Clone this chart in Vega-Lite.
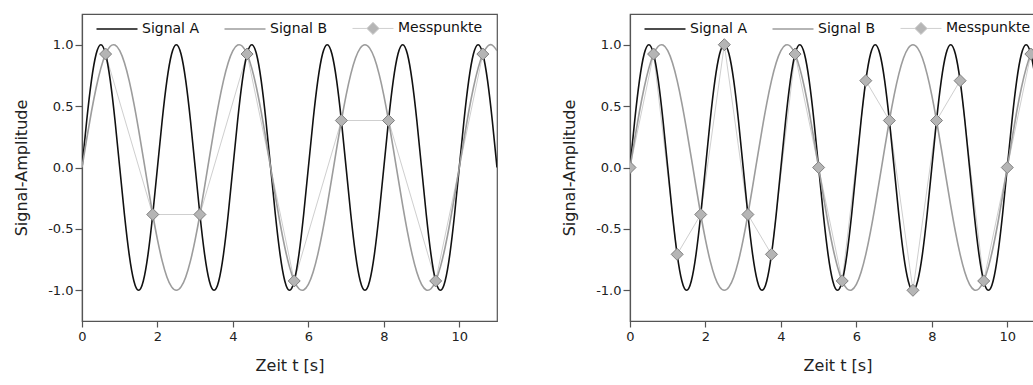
{
  "$schema": "https://vega.github.io/schema/vega-lite/v6.json",
  "background": "white",
  "padding": {"left": 13, "top": 13, "right": 0, "bottom": 0},
  "config": {
    "font": "DejaVu Sans",
    "view": {"stroke": "#555", "strokeWidth": 1.2},
    "axis": {
      "grid": false,
      "domainColor": "#555",
      "domainWidth": 1.2,
      "tickColor": "#555",
      "tickWidth": 1.2,
      "labelColor": "#222",
      "labelFontSize": 13,
      "labelFont": "DejaVu Sans",
      "titleFont": "DejaVu Sans",
      "titleFontSize": 16,
      "titleFontWeight": "normal",
      "titleColor": "#222"
    },
    "legend": {
      "orient": "top-left",
      "direction": "horizontal",
      "offset": 0,
      "padding": 7,
      "symbolType": "stroke",
      "symbolSize": 1681,
      "symbolStrokeWidth": 1.6,
      "symbolOffset": 21,
      "labelFont": "DejaVu Sans",
      "labelFontSize": 14,
      "labelColor": "#111",
      "labelOffset": 18,
      "columnPadding": 17
    }
  },
  "datasets": {
    "kurven": [
      {"t": 0, "Signal A": 0, "Signal B": 0},
      {"t": 0.125, "Signal A": 0.3827, "Signal B": 0.2334},
      {"t": 0.25, "Signal A": 0.7071, "Signal B": 0.454},
      {"t": 0.375, "Signal A": 0.9239, "Signal B": 0.6494},
      {"t": 0.5, "Signal A": 1, "Signal B": 0.809},
      {"t": 0.625, "Signal A": 0.9239, "Signal B": 0.9239},
      {"t": 0.75, "Signal A": 0.7071, "Signal B": 0.9877},
      {"t": 0.875, "Signal A": 0.3827, "Signal B": 0.9969},
      {"t": 1, "Signal A": 0, "Signal B": 0.9511},
      {"t": 1.125, "Signal A": -0.3827, "Signal B": 0.8526},
      {"t": 1.25, "Signal A": -0.7071, "Signal B": 0.7071},
      {"t": 1.375, "Signal A": -0.9239, "Signal B": 0.5225},
      {"t": 1.5, "Signal A": -1, "Signal B": 0.309},
      {"t": 1.625, "Signal A": -0.9239, "Signal B": 0.0785},
      {"t": 1.75, "Signal A": -0.7071, "Signal B": -0.1564},
      {"t": 1.875, "Signal A": -0.3827, "Signal B": -0.3827},
      {"t": 2, "Signal A": 0, "Signal B": -0.5878},
      {"t": 2.125, "Signal A": 0.3827, "Signal B": -0.7604},
      {"t": 2.25, "Signal A": 0.7071, "Signal B": -0.891},
      {"t": 2.375, "Signal A": 0.9239, "Signal B": -0.9724},
      {"t": 2.5, "Signal A": 1, "Signal B": -1},
      {"t": 2.625, "Signal A": 0.9239, "Signal B": -0.9724},
      {"t": 2.75, "Signal A": 0.7071, "Signal B": -0.891},
      {"t": 2.875, "Signal A": 0.3827, "Signal B": -0.7604},
      {"t": 3, "Signal A": 0, "Signal B": -0.5878},
      {"t": 3.125, "Signal A": -0.3827, "Signal B": -0.3827},
      {"t": 3.25, "Signal A": -0.7071, "Signal B": -0.1564},
      {"t": 3.375, "Signal A": -0.9239, "Signal B": 0.0785},
      {"t": 3.5, "Signal A": -1, "Signal B": 0.309},
      {"t": 3.625, "Signal A": -0.9239, "Signal B": 0.5225},
      {"t": 3.75, "Signal A": -0.7071, "Signal B": 0.7071},
      {"t": 3.875, "Signal A": -0.3827, "Signal B": 0.8526},
      {"t": 4, "Signal A": 0, "Signal B": 0.9511},
      {"t": 4.125, "Signal A": 0.3827, "Signal B": 0.9969},
      {"t": 4.25, "Signal A": 0.7071, "Signal B": 0.9877},
      {"t": 4.375, "Signal A": 0.9239, "Signal B": 0.9239},
      {"t": 4.5, "Signal A": 1, "Signal B": 0.809},
      {"t": 4.625, "Signal A": 0.9239, "Signal B": 0.6494},
      {"t": 4.75, "Signal A": 0.7071, "Signal B": 0.454},
      {"t": 4.875, "Signal A": 0.3827, "Signal B": 0.2334},
      {"t": 5, "Signal A": 0, "Signal B": 0},
      {"t": 5.125, "Signal A": -0.3827, "Signal B": -0.2334},
      {"t": 5.25, "Signal A": -0.7071, "Signal B": -0.454},
      {"t": 5.375, "Signal A": -0.9239, "Signal B": -0.6494},
      {"t": 5.5, "Signal A": -1, "Signal B": -0.809},
      {"t": 5.625, "Signal A": -0.9239, "Signal B": -0.9239},
      {"t": 5.75, "Signal A": -0.7071, "Signal B": -0.9877},
      {"t": 5.875, "Signal A": -0.3827, "Signal B": -0.9969},
      {"t": 6, "Signal A": 0, "Signal B": -0.9511},
      {"t": 6.125, "Signal A": 0.3827, "Signal B": -0.8526},
      {"t": 6.25, "Signal A": 0.7071, "Signal B": -0.7071},
      {"t": 6.375, "Signal A": 0.9239, "Signal B": -0.5225},
      {"t": 6.5, "Signal A": 1, "Signal B": -0.309},
      {"t": 6.625, "Signal A": 0.9239, "Signal B": -0.0785},
      {"t": 6.75, "Signal A": 0.7071, "Signal B": 0.1564},
      {"t": 6.875, "Signal A": 0.3827, "Signal B": 0.3827},
      {"t": 7, "Signal A": 0, "Signal B": 0.5878},
      {"t": 7.125, "Signal A": -0.3827, "Signal B": 0.7604},
      {"t": 7.25, "Signal A": -0.7071, "Signal B": 0.891},
      {"t": 7.375, "Signal A": -0.9239, "Signal B": 0.9724},
      {"t": 7.5, "Signal A": -1, "Signal B": 1},
      {"t": 7.625, "Signal A": -0.9239, "Signal B": 0.9724},
      {"t": 7.75, "Signal A": -0.7071, "Signal B": 0.891},
      {"t": 7.875, "Signal A": -0.3827, "Signal B": 0.7604},
      {"t": 8, "Signal A": 0, "Signal B": 0.5878},
      {"t": 8.125, "Signal A": 0.3827, "Signal B": 0.3827},
      {"t": 8.25, "Signal A": 0.7071, "Signal B": 0.1564},
      {"t": 8.375, "Signal A": 0.9239, "Signal B": -0.0785},
      {"t": 8.5, "Signal A": 1, "Signal B": -0.309},
      {"t": 8.625, "Signal A": 0.9239, "Signal B": -0.5225},
      {"t": 8.75, "Signal A": 0.7071, "Signal B": -0.7071},
      {"t": 8.875, "Signal A": 0.3827, "Signal B": -0.8526},
      {"t": 9, "Signal A": 0, "Signal B": -0.9511},
      {"t": 9.125, "Signal A": -0.3827, "Signal B": -0.9969},
      {"t": 9.25, "Signal A": -0.7071, "Signal B": -0.9877},
      {"t": 9.375, "Signal A": -0.9239, "Signal B": -0.9239},
      {"t": 9.5, "Signal A": -1, "Signal B": -0.809},
      {"t": 9.625, "Signal A": -0.9239, "Signal B": -0.6494},
      {"t": 9.75, "Signal A": -0.7071, "Signal B": -0.454},
      {"t": 9.875, "Signal A": -0.3827, "Signal B": -0.2334},
      {"t": 10, "Signal A": 0, "Signal B": 0},
      {"t": 10.125, "Signal A": 0.3827, "Signal B": 0.2334},
      {"t": 10.25, "Signal A": 0.7071, "Signal B": 0.454},
      {"t": 10.375, "Signal A": 0.9239, "Signal B": 0.6494},
      {"t": 10.5, "Signal A": 1, "Signal B": 0.809},
      {"t": 10.625, "Signal A": 0.9239, "Signal B": 0.9239},
      {"t": 10.75, "Signal A": 0.7071, "Signal B": 0.9877},
      {"t": 10.875, "Signal A": 0.3827, "Signal B": 0.9969},
      {"t": 11, "Signal A": 0, "Signal B": 0.9511}
    ],
    "messpunkte": [
      {"panel": "links", "Reihe": "Messpunkte", "t": 0.625, "y": 0.9239},
      {"panel": "links", "Reihe": "Messpunkte", "t": 1.875, "y": -0.3827},
      {"panel": "links", "Reihe": "Messpunkte", "t": 3.125, "y": -0.3827},
      {"panel": "links", "Reihe": "Messpunkte", "t": 4.375, "y": 0.9239},
      {"panel": "links", "Reihe": "Messpunkte", "t": 5.625, "y": -0.9239},
      {"panel": "links", "Reihe": "Messpunkte", "t": 6.875, "y": 0.3827},
      {"panel": "links", "Reihe": "Messpunkte", "t": 8.125, "y": 0.3827},
      {"panel": "links", "Reihe": "Messpunkte", "t": 9.375, "y": -0.9239},
      {"panel": "links", "Reihe": "Messpunkte", "t": 10.625, "y": 0.9239},
      {"panel": "rechts", "Reihe": "Messpunkte", "t": 0, "y": 0},
      {"panel": "rechts", "Reihe": "Messpunkte", "t": 0.625, "y": 0.9239},
      {"panel": "rechts", "Reihe": "Messpunkte", "t": 1.25, "y": -0.7071},
      {"panel": "rechts", "Reihe": "Messpunkte", "t": 1.875, "y": -0.3827},
      {"panel": "rechts", "Reihe": "Messpunkte", "t": 2.5, "y": 1},
      {"panel": "rechts", "Reihe": "Messpunkte", "t": 3.125, "y": -0.3827},
      {"panel": "rechts", "Reihe": "Messpunkte", "t": 3.75, "y": -0.7071},
      {"panel": "rechts", "Reihe": "Messpunkte", "t": 4.375, "y": 0.9239},
      {"panel": "rechts", "Reihe": "Messpunkte", "t": 5, "y": 0},
      {"panel": "rechts", "Reihe": "Messpunkte", "t": 5.625, "y": -0.9239},
      {"panel": "rechts", "Reihe": "Messpunkte", "t": 6.25, "y": 0.7071},
      {"panel": "rechts", "Reihe": "Messpunkte", "t": 6.875, "y": 0.3827},
      {"panel": "rechts", "Reihe": "Messpunkte", "t": 7.5, "y": -1},
      {"panel": "rechts", "Reihe": "Messpunkte", "t": 8.125, "y": 0.3827},
      {"panel": "rechts", "Reihe": "Messpunkte", "t": 8.75, "y": 0.7071},
      {"panel": "rechts", "Reihe": "Messpunkte", "t": 9.375, "y": -0.9239},
      {"panel": "rechts", "Reihe": "Messpunkte", "t": 10, "y": 0},
      {"panel": "rechts", "Reihe": "Messpunkte", "t": 10.625, "y": 0.9239}
    ]
  },
  "spacing": 63,
  "resolve": {"scale": {"color": "independent"}, "legend": {"color": "independent"}},
  "hconcat": [
    {
      "width": 415,
      "height": 307,
      "layer": [
        {
          "data": {"name": "messpunkte"},
          "transform": [{"filter": "datum.panel === 'links'"}],
          "mark": {"type": "line", "strokeWidth": 1, "clip": true},
          "encoding": {
            "x": {"field": "t", "type": "quantitative", "scale": {"domain": [0, 11], "nice": false},
              "axis": {"title": "Zeit t [s]", "values": [0, 1, 2, 3, 4, 5, 6, 7, 8, 9, 10, 11], "labelFlush": false, "labelOverlap": false, "labelPadding": 3, "titlePadding": 14,
                "labelExpr": "datum.value % 2 === 1 ? '' : datum.label",
                "tickSize": {"condition": {"test": "datum.value % 2 === 1", "value": 3}, "value": 6}}},
            "y": {"field": "y", "type": "quantitative", "scale": {"domain": [-1.25, 1.25], "nice": false},
              "axis": {"title": "Signal-Amplitude", "values": [-1, -0.75, -0.5, -0.25, 0, 0.25, 0.5, 0.75, 1], "labelPadding": 2, "titlePadding": 18, "labelOverlap": false,
                "labelExpr": "abs(datum.value * 4) % 2 === 1 ? '' : (datum.value < 0 ? '-' : '') + format(abs(datum.value), '.1f')",
                "tickSize": {"condition": {"test": "abs(datum.value * 4) % 2 === 1", "value": 3}, "value": 7}}},
            "color": {"field": "Reihe", "type": "nominal",
              "scale": {"domain": ["Signal A", "Signal B", "Messpunkte"], "range": ["#111111", "#9c9c9c", "#cfcfcf"]},
              "legend": {"title": null,
                "encode": {"symbols": {"update": {
                  "shape": {"signal": "datum.value === 'Messpunkte' ? 'M-1,0L-0.3,0M0.3,0L1,0M-0.3,0L0,-0.3L0.3,0L0,0.3Z' : 'stroke'"},
                  "fill": {"signal": "datum.value === 'Messpunkte' ? '#b5b5b5' : 'transparent'"},
                  "stroke": {"signal": "datum.value === 'Messpunkte' ? '#a0a0a0' : (datum.value === 'Signal A' ? '#111111' : '#9c9c9c')"},
                  "strokeWidth": {"signal": "datum.value === 'Messpunkte' ? 1 : 1.6"}
                }}}}}
          }
        },
        {
          "data": {"name": "kurven"},
          "transform": [{"fold": ["Signal A", "Signal B"], "as": ["Reihe", "y"]}],
          "mark": {"type": "line", "interpolate": "natural", "strokeWidth": 1.6, "clip": true},
          "encoding": {
            "x": {"field": "t", "type": "quantitative"},
            "y": {"field": "y", "type": "quantitative"},
            "color": {"field": "Reihe", "type": "nominal"}
          }
        },
        {
          "data": {"name": "messpunkte"},
          "transform": [{"filter": "datum.panel === 'links'"}],
          "mark": {"type": "point", "shape": "diamond", "filled": true, "fill": "#b5b5b5", "stroke": "#7f7f7f", "strokeWidth": 1, "size": 144, "opacity": 1, "clip": true},
          "encoding": {
            "x": {"field": "t", "type": "quantitative"},
            "y": {"field": "y", "type": "quantitative"}
          }
        }
      ]
    },
    {
      "width": 415,
      "height": 307,
      "layer": [
        {
          "data": {"name": "messpunkte"},
          "transform": [{"filter": "datum.panel === 'rechts'"}],
          "mark": {"type": "line", "strokeWidth": 1, "clip": true},
          "encoding": {
            "x": {"field": "t", "type": "quantitative", "scale": {"domain": [0, 11], "nice": false},
              "axis": {"title": "Zeit t [s]", "values": [0, 1, 2, 3, 4, 5, 6, 7, 8, 9, 10, 11], "labelFlush": false, "labelOverlap": false, "labelPadding": 3, "titlePadding": 14,
                "labelExpr": "datum.value % 2 === 1 ? '' : datum.label",
                "tickSize": {"condition": {"test": "datum.value % 2 === 1", "value": 3}, "value": 6}}},
            "y": {"field": "y", "type": "quantitative", "scale": {"domain": [-1.25, 1.25], "nice": false},
              "axis": {"title": "Signal-Amplitude", "values": [-1, -0.75, -0.5, -0.25, 0, 0.25, 0.5, 0.75, 1], "labelPadding": 2, "titlePadding": 18, "labelOverlap": false,
                "labelExpr": "abs(datum.value * 4) % 2 === 1 ? '' : (datum.value < 0 ? '-' : '') + format(abs(datum.value), '.1f')",
                "tickSize": {"condition": {"test": "abs(datum.value * 4) % 2 === 1", "value": 3}, "value": 7}}},
            "color": {"field": "Reihe", "type": "nominal",
              "scale": {"domain": ["Signal A", "Signal B", "Messpunkte"], "range": ["#111111", "#9c9c9c", "#cfcfcf"]},
              "legend": {"title": null,
                "encode": {"symbols": {"update": {
                  "shape": {"signal": "datum.value === 'Messpunkte' ? 'M-1,0L-0.3,0M0.3,0L1,0M-0.3,0L0,-0.3L0.3,0L0,0.3Z' : 'stroke'"},
                  "fill": {"signal": "datum.value === 'Messpunkte' ? '#b5b5b5' : 'transparent'"},
                  "stroke": {"signal": "datum.value === 'Messpunkte' ? '#a0a0a0' : (datum.value === 'Signal A' ? '#111111' : '#9c9c9c')"},
                  "strokeWidth": {"signal": "datum.value === 'Messpunkte' ? 1 : 1.6"}
                }}}}}
          }
        },
        {
          "data": {"name": "kurven"},
          "transform": [{"fold": ["Signal A", "Signal B"], "as": ["Reihe", "y"]}],
          "mark": {"type": "line", "interpolate": "natural", "strokeWidth": 1.6, "clip": true},
          "encoding": {
            "x": {"field": "t", "type": "quantitative"},
            "y": {"field": "y", "type": "quantitative"},
            "color": {"field": "Reihe", "type": "nominal"}
          }
        },
        {
          "data": {"name": "messpunkte"},
          "transform": [{"filter": "datum.panel === 'rechts'"}],
          "mark": {"type": "point", "shape": "diamond", "filled": true, "fill": "#b5b5b5", "stroke": "#7f7f7f", "strokeWidth": 1, "size": 144, "opacity": 1, "clip": true},
          "encoding": {
            "x": {"field": "t", "type": "quantitative"},
            "y": {"field": "y", "type": "quantitative"}
          }
        }
      ]
    }
  ]
}
